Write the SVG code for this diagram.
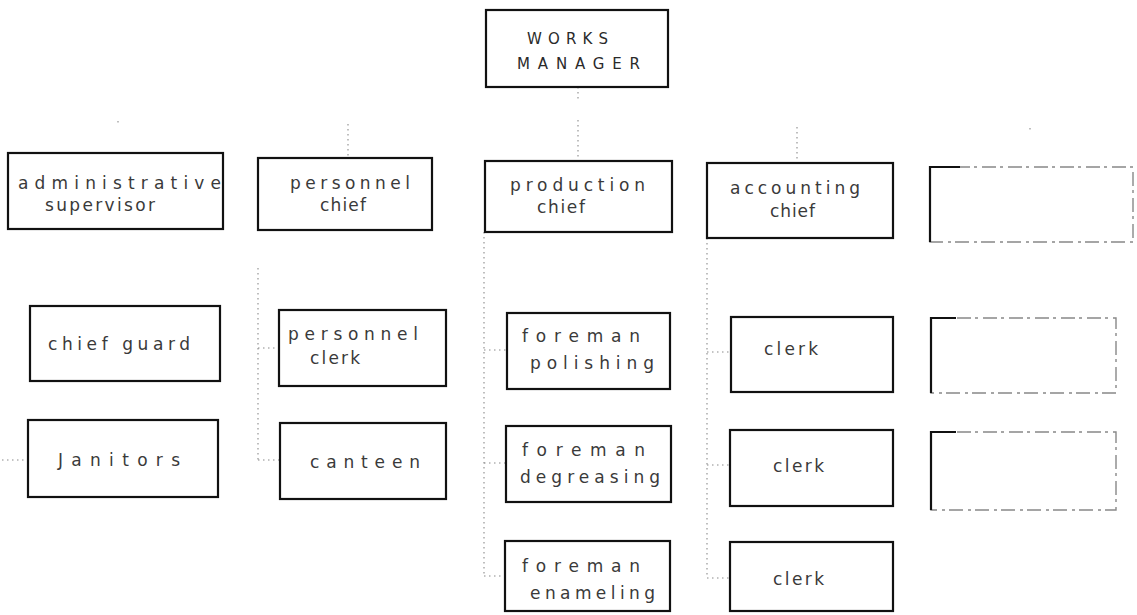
<svg xmlns="http://www.w3.org/2000/svg" width="1137" height="615" viewBox="0 0 1137 615">
  <style>
    .box { fill: none; stroke: #111; stroke-width: 2.2; }
    .faint { fill: none; stroke: #888; stroke-width: 1.4; stroke-dasharray: 14 4 3 5; }
    .faint-edge { fill: none; stroke: #111; stroke-width: 2.2; }
    .lbl { font-family: "DejaVu Sans", "Liberation Sans", sans-serif; font-size: 17px; fill: #3a3a3a; }
    .cap { font-family: "DejaVu Sans", "Liberation Sans", sans-serif; font-size: 15px; fill: #2a2a2a; }
    .link { fill: none; stroke: #8a8a8a; stroke-width: 1.1; stroke-dasharray: 1.5 3.5; }
  </style>

  <rect width="1137" height="615" fill="#ffffff"/>

  <!-- connectors -->
  <g id="connectors">
    <line class="link" x1="578" y1="87" x2="578" y2="100"/>
    <line class="link" x1="118" y1="121" x2="118" y2="126"/>
    <line class="link" x1="348" y1="124" x2="348" y2="158"/>
    <line class="link" x1="578" y1="120" x2="578" y2="161"/>
    <line class="link" x1="797" y1="127" x2="797" y2="163"/>
    <line class="link" x1="1030" y1="128" x2="1030" y2="133"/>
    <!-- personnel branch -->
    <line class="link" x1="258" y1="268" x2="258" y2="460"/>
    <line class="link" x1="258" y1="348" x2="278" y2="348"/>
    <line class="link" x1="258" y1="460" x2="280" y2="460"/>
    <!-- administrative branch -->
    <line class="link" x1="2" y1="460" x2="28" y2="460"/>
    <!-- production branch -->
    <line class="link" x1="484" y1="232" x2="484" y2="576"/>
    <line class="link" x1="484" y1="350" x2="507" y2="350"/>
    <line class="link" x1="484" y1="463" x2="506" y2="463"/>
    <line class="link" x1="484" y1="576" x2="505" y2="576"/>
    <!-- accounting branch -->
    <line class="link" x1="707" y1="238" x2="707" y2="576"/>
    <line class="link" x1="707" y1="352" x2="731" y2="352"/>
    <line class="link" x1="707" y1="465" x2="730" y2="465"/>
    <line class="link" x1="707" y1="578" x2="730" y2="578"/>
  </g>

  <g id="works-manager">
    <rect class="box" x="486" y="10" width="182" height="77"/>
    <text class="cap" x="527" y="44" textLength="81" lengthAdjust="spacing">WORKS</text>
    <text class="cap" x="517" y="69" textLength="123" lengthAdjust="spacing">MANAGER</text>
  </g>

  <g id="administrative-supervisor">
    <rect class="box" x="8" y="153" width="215" height="76"/>
    <text class="lbl" x="18" y="189" textLength="203" lengthAdjust="spacing">administrative</text>
    <text class="lbl" x="45" y="211" textLength="110" lengthAdjust="spacing">supervisor</text>
  </g>

  <g id="personnel-chief">
    <rect class="box" x="258" y="158" width="174" height="72"/>
    <text class="lbl" x="290" y="189" textLength="120" lengthAdjust="spacing">personnel</text>
    <text class="lbl" x="320" y="211" textLength="46" lengthAdjust="spacing">chief</text>
  </g>

  <g id="production-chief">
    <rect class="box" x="485" y="161" width="187" height="71"/>
    <text class="lbl" x="510" y="191" textLength="135" lengthAdjust="spacing">production</text>
    <text class="lbl" x="537" y="213" textLength="48" lengthAdjust="spacing">chief</text>
  </g>

  <g id="accounting-chief">
    <rect class="box" x="707" y="163" width="186" height="75"/>
    <text class="lbl" x="730" y="194" textLength="130" lengthAdjust="spacing">accounting</text>
    <text class="lbl" x="770" y="217" textLength="45" lengthAdjust="spacing">chief</text>
  </g>

  <g id="faint-chief">
    <rect class="faint" x="930" y="167" width="203" height="75"/>
    <path class="faint-edge" d="M 930 242 L 930 167 L 960 167"/>
  </g>

  <g id="chief-guard">
    <rect class="box" x="30" y="306" width="190" height="75"/>
    <text class="lbl" x="48" y="350" textLength="142" lengthAdjust="spacing">chief guard</text>
  </g>

  <g id="personnel-clerk">
    <rect class="box" x="279" y="310" width="167" height="76"/>
    <text class="lbl" x="288" y="340" textLength="130" lengthAdjust="spacing">personnel</text>
    <text class="lbl" x="310" y="364" textLength="50" lengthAdjust="spacing">clerk</text>
  </g>

  <g id="foreman-polishing">
    <rect class="box" x="507" y="313" width="163" height="76"/>
    <text class="lbl" x="522" y="342" textLength="118" lengthAdjust="spacing">foreman</text>
    <text class="lbl" x="530" y="369" textLength="124" lengthAdjust="spacing">polishing</text>
  </g>

  <g id="clerk-1">
    <rect class="box" x="731" y="317" width="162" height="75"/>
    <text class="lbl" x="764" y="355" textLength="54" lengthAdjust="spacing">clerk</text>
  </g>

  <g id="faint-box-2">
    <rect class="faint" x="931" y="318" width="185" height="75"/>
    <path class="faint-edge" d="M 931 393 L 931 318 L 956 318"/>
  </g>

  <g id="janitors">
    <rect class="box" x="28" y="420" width="190" height="77"/>
    <text class="lbl" x="58" y="466" textLength="122" lengthAdjust="spacing">Janitors</text>
  </g>

  <g id="canteen">
    <rect class="box" x="280" y="423" width="166" height="76"/>
    <text class="lbl" x="310" y="468" textLength="110" lengthAdjust="spacing">canteen</text>
  </g>

  <g id="foreman-degreasing">
    <rect class="box" x="506" y="426" width="165" height="76"/>
    <text class="lbl" x="522" y="456" textLength="123" lengthAdjust="spacing">foreman</text>
    <text class="lbl" x="520" y="483" textLength="140" lengthAdjust="spacing">degreasing</text>
  </g>

  <g id="clerk-2">
    <rect class="box" x="730" y="430" width="163" height="76"/>
    <text class="lbl" x="773" y="472" textLength="51" lengthAdjust="spacing">clerk</text>
  </g>

  <g id="faint-box-3">
    <rect class="faint" x="931" y="432" width="185" height="78"/>
    <path class="faint-edge" d="M 931 510 L 931 432 L 956 432"/>
  </g>

  <g id="foreman-enameling">
    <rect class="box" x="505" y="541" width="165" height="70"/>
    <text class="lbl" x="522" y="572" textLength="118" lengthAdjust="spacing">foreman</text>
    <text class="lbl" x="530" y="599" textLength="125" lengthAdjust="spacing">enameling</text>
  </g>

  <g id="clerk-3">
    <rect class="box" x="730" y="542" width="163" height="69"/>
    <text class="lbl" x="773" y="585" textLength="51" lengthAdjust="spacing">clerk</text>
  </g>
</svg>
